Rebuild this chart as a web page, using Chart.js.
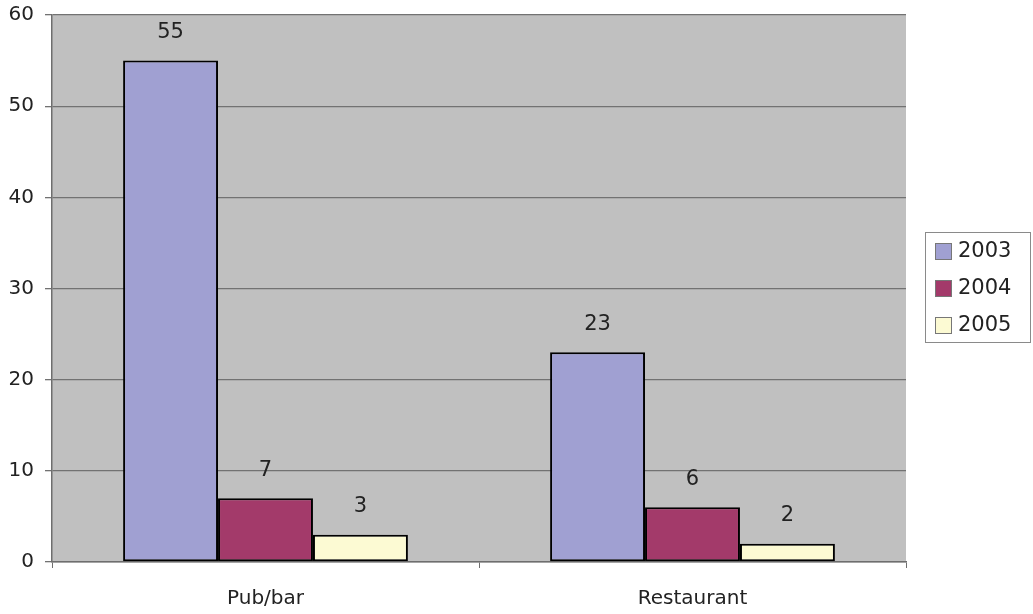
<!DOCTYPE html>
<html>
<head>
<meta charset="utf-8">
<script src="https://cdn.jsdelivr.net/npm/chart.js@4"></script>
<style>
  html, body { margin: 0; padding: 0; background: #fff; }
  #wrap { width: 1033px; height: 614px; }
</style>
</head>
<body>
<div id="wrap"><canvas id="chart" width="1033" height="614"></canvas></div>
<script>
// Incidents per venue type, by year
const categories = ['Pub/bar', 'Restaurant'];
const years = ['2003', '2004', '2005'];
const values2003 = [55, 23];
const values2004 = [7, 6];
const values2005 = [3, 2];
const yTicks = [0, 10, 20, 30, 40, 50, 60];

const seriesColors = ['#a0a0d2', '#a33a6a', '#fcfad3'];
const FONT = '"DejaVu Sans", Verdana, sans-serif';
const TEXT = '#222222';

// grey plot background
const plotBackground = {
    id: 'plotBackground',
    beforeDraw(chart) {
        const { ctx, chartArea: a } = chart;
        ctx.save();
        ctx.fillStyle = '#c0c0c0';
        ctx.fillRect(a.left, a.top, a.right - a.left, a.bottom - a.top);
        ctx.restore();
    }
};

// value printed above each bar
const valueLabels = {
    id: 'valueLabels',
    afterDatasetsDraw(chart) {
        const { ctx } = chart;
        ctx.save();
        ctx.font = '21px ' + FONT;
        ctx.fillStyle = TEXT;
        ctx.textAlign = 'center';
        ctx.textBaseline = 'middle';
        chart.data.datasets.forEach((ds, i) => {
            const meta = chart.getDatasetMeta(i);
            meta.data.forEach((bar, j) => {
                ctx.fillText(String(ds.data[j]), bar.x, bar.y - 28);
            });
        });
        ctx.restore();
    }
};

// boxed legend on the right
const boxLegend = {
    id: 'boxLegend',
    afterDraw(chart) {
        const { ctx } = chart;
        const x = 925, y = 232, w = 106, h = 111;
        ctx.save();
        ctx.fillStyle = '#ffffff';
        ctx.fillRect(x, y, w, h);
        ctx.strokeStyle = '#8a8a8a';
        ctx.lineWidth = 1;
        ctx.strokeRect(x + 0.5, y + 0.5, w - 1, h - 1);
        ctx.font = '21px ' + FONT;
        ctx.textBaseline = 'middle';
        chart.data.datasets.forEach((ds, i) => {
            const cy = y + 19 + i * 37;
            ctx.fillStyle = ds.backgroundColor;
            ctx.fillRect(x + 10, cy - 8, 17, 17);
            ctx.strokeStyle = '#777';
            ctx.strokeRect(x + 10.5, cy - 7.5, 16, 16);
            ctx.fillStyle = TEXT;
            ctx.fillText(ds.label, x + 33, cy + 1);
        });
        ctx.restore();
    }
};

const datasets = [values2003, values2004, values2005].map((vals, i) => ({
    label: years[i],
    data: vals,
    backgroundColor: seriesColors[i],
    borderColor: '#000000',
    borderWidth: 2,
    borderSkipped: false,
    categoryPercentage: 0.667,
    barPercentage: 1.0
}));

new Chart(document.getElementById('chart'), {
    type: 'bar',
    data: { labels: categories, datasets: datasets },
    options: {
        responsive: false,
        animation: false,
        layout: { padding: { top: 15, right: 127, left: 0, bottom: 0 } },
        plugins: {
            legend: { display: false },
            tooltip: { enabled: false }
        },
        scales: {
            x: {
                grid: {
                    offset: true,
                    drawOnChartArea: false,
                    drawTicks: true,
                    tickLength: 6,
                    color: '#6e6e6e'
                },
                border: { color: '#6e6e6e', width: 1.5 },
                ticks: {
                    color: TEXT,
                    font: { family: FONT, size: 20 },
                    padding: 19
                },
                afterFit(scale) {
                    scale.height = 52;
                    scale.paddingLeft = 0;
                    scale.paddingRight = 0;
                }
            },
            y: {
                min: 0,
                max: 60,
                afterBuildTicks(scale) {
                    scale.ticks = yTicks.map(v => ({ value: v }));
                },
                grid: {
                    color: '#727272',
                    tickLength: 7,
                    lineWidth: 1.3
                },
                border: { color: '#6e6e6e', width: 1.5 },
                ticks: {
                    color: TEXT,
                    font: { family: FONT, size: 20 },
                    padding: 11
                },
                afterFit(scale) {
                    scale.width = 52;
                    scale.paddingTop = 0;
                    scale.paddingBottom = 0;
                }
            }
        }
    },
    plugins: [plotBackground, valueLabels, boxLegend]
});
</script>
</body>
</html>
